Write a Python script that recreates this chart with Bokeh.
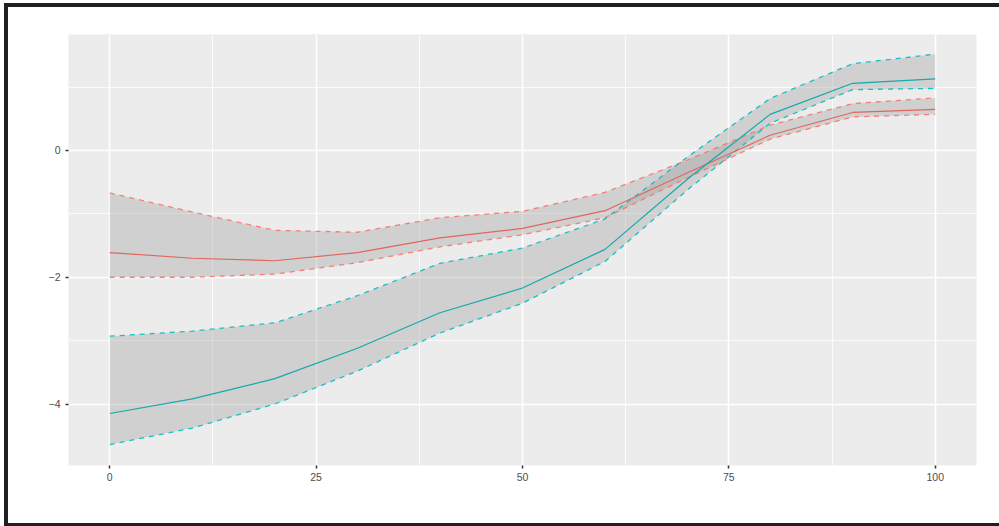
from bokeh.plotting import figure
from bokeh.models import Range1d, FixedTicker
from bokeh.embed import file_html
from bokeh.resources import INLINE

# ---- data ----
x = [0, 10, 20, 30, 40, 50, 60, 70, 80, 90, 100]

red_mean = [-1.61, -1.70, -1.74, -1.61, -1.38, -1.23, -0.95, -0.35, 0.24, 0.60, 0.65]
red_upper = [-0.67, -0.97, -1.26, -1.29, -1.06, -0.96, -0.66, -0.15, 0.40, 0.74, 0.83]
red_lower = [-2.00, -2.00, -1.95, -1.77, -1.52, -1.33, -1.06, -0.43, 0.18, 0.53, 0.57]

teal_mean = [-4.15, -3.92, -3.60, -3.12, -2.56, -2.17, -1.56, -0.45, 0.57, 1.06, 1.13]
teal_upper = [-2.93, -2.85, -2.72, -2.29, -1.78, -1.54, -1.08, -0.10, 0.82, 1.37, 1.52]
teal_lower = [-4.64, -4.38, -4.00, -3.48, -2.88, -2.41, -1.75, -0.62, 0.43, 0.96, 0.98]

x_major = [0, 25, 50, 75, 100]
x_minor = [12.5, 37.5, 62.5, 87.5]
y_major = [-4, -2, 0]
y_minor = [-5, -3, -1, 1]
y_labels = {-4: "\u22124", -2: "\u22122", 0: "0"}

# ---- figure ----
p = figure(width=995, height=524, output_backend="svg", toolbar_location=None,
           x_range=Range1d(-5, 105), y_range=Range1d(-4.97, 1.83))
p.min_border_left = 60
p.min_border_right = 27
p.min_border_top = 27
p.min_border_bottom = 66
p.background_fill_color = "#EBECEB"
p.border_fill_color = "white"
p.outline_line_color = None
p.styles = {"border-left": "4px solid #231F20", "border-top": "4px solid #231F20",
            "border-bottom": "4px solid #231F20", "margin-left": "4px",
            "margin-top": "3px", "margin-bottom": "-12px", "overflow": "hidden"}

p.xaxis.ticker = FixedTicker(ticks=x_major, minor_ticks=x_minor)
p.yaxis.ticker = FixedTicker(ticks=y_major, minor_ticks=y_minor)
p.yaxis.major_label_overrides = y_labels

for ax in (p.xaxis, p.yaxis):
    ax.axis_line_color = None
    ax.major_tick_in = 0
    ax.major_tick_out = 3
    ax.major_tick_line_color = "#333333"
    ax.major_tick_line_width = 1.5
    ax.minor_tick_line_color = None
    ax.major_label_text_color = "#4D4D4D"
    ax.major_label_text_font = "Liberation Sans"
    ax.major_label_text_font_size = "10.5px"
p.xaxis.major_label_standoff = 3
p.yaxis.major_label_standoff = 4

for g in (p.xgrid, p.ygrid):
    g.grid_line_color = "white"
    g.grid_line_width = 1.6
    g.minor_grid_line_color = "white"
    g.minor_grid_line_width = 0.8

# ribbons
p.varea(x=x, y1=red_lower, y2=red_upper, fill_color="#999999", fill_alpha=0.33)
p.varea(x=x, y1=teal_lower, y2=teal_upper, fill_color="#999999", fill_alpha=0.33)

# dashed ribbon outlines
for ys, c in ((red_upper, "#F8766D"), (red_lower, "#F8766D"),
              (teal_upper, "#00BFC4"), (teal_lower, "#00BFC4")):
    p.line(x, ys, line_color=c, line_width=1.3, line_dash="5 5", line_alpha=0.9)

# mean lines
p.line(x, red_mean, line_color="#E0665E", line_width=1.2)
p.line(x, teal_mean, line_color="#14A9AD", line_width=1.2)

open("out.html", "w").write(file_html(p, INLINE))
